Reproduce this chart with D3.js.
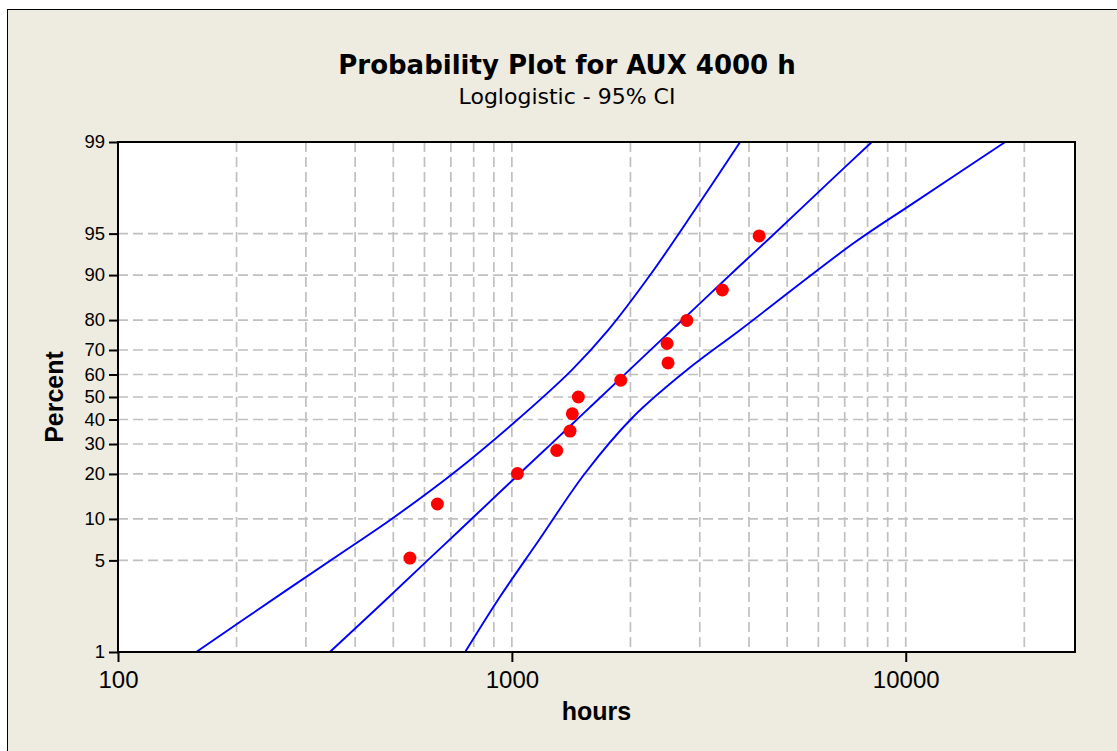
<!DOCTYPE html>
<html>
<head>
<script src="https://cdnjs.cloudflare.com/ajax/libs/d3/7.8.5/d3.min.js"></script>
<style>
  body { margin: 0; background: #ffffff; }
  svg text { font-family: "Liberation Sans", Arial, sans-serif; fill: #000; }
</style>
</head>
<body>
<div id="vis"></div>
<script>
// observed failures (median ranks)
const hours   = [551, 647, 1033, 1300, 1405, 1424, 1475, 1890, 2492, 2478, 2781, 3423, 4244];
const percent = [5.2, 12.7, 20.1, 27.6, 35.1, 42.5, 50.0, 57.5, 64.9, 72.4, 79.9, 87.3, 94.8];

// fitted loglogistic line
const fitHours   = [345, 473, 610, 738, 936, 1048, 1249, 1520, 1830, 2547, 3773, 4547, 6465, 8201];
const fitPercent = [1.0, 2.44, 4.98, 8.34, 15.4, 20.2, 29.6, 42.7, 56.1, 77.0, 91.3, 94.7, 98.03, 99.0];

// 95% CI bounds
const upperHours   = [158, 268, 385, 491, 710, 1009, 1419, 1758, 2244, 2919, 3798];
const upperPercent = [1.0, 2.99, 6.15, 9.83, 20.2, 38.4, 61.9, 77.0, 90.0, 96.7, 99.0];
const lowerHours   = [761, 933, 1157, 1534, 2034, 2781, 3798, 7366, 10364, 17884];
const lowerPercent = [1.0, 2.66, 6.68, 20.2, 41.2, 61.9, 77.0, 94.1, 97.0, 99.0];

const xDomain = [100, 26900];
const xMajor = [100, 1000, 10000];
const xGrid = [200, 300, 400, 500, 600, 700, 800, 900, 1000, 2000, 3000, 4000, 5000, 6000, 7000, 8000, 9000, 10000, 20000];
const yTicks = [1, 5, 10, 20, 30, 40, 50, 60, 70, 80, 90, 95, 99];
const yGrid = [5, 10, 20, 30, 40, 50, 60, 70, 80, 90, 95];

const W = 1117, H = 751;
const pLeft = 118, pRight = 1075, pTop = 142, pBottom = 652;

const logit = p => Math.log((p / 100) / (1 - p / 100));

const svg = d3.select("#vis").append("svg")
    .attr("width", W)
    .attr("height", H);

// outer panel
svg.append("rect")
    .attr("x", 7.5).attr("y", 9.5)
    .attr("width", 1200).attr("height", 800)
    .attr("fill", "#eeebe0")
    .attr("stroke", "#000").attr("stroke-width", 1);

var x = d3.scaleLog().domain(xDomain).range([pLeft, pRight]);
var yLin = d3.scaleLinear().domain([logit(1), logit(99)]).range([pBottom, pTop]);
var y = p => yLin(logit(p));

svg.append("rect")
    .attr("x", pLeft).attr("y", pTop)
    .attr("width", pRight - pLeft).attr("height", pBottom - pTop)
    .attr("fill", "#fff");

// grid
svg.append("g").selectAll("line")
    .data(xGrid)
    .join("line")
    .attr("x1", d => x(d)).attr("x2", d => x(d))
    .attr("y1", pTop).attr("y2", pBottom)
    .attr("stroke", "#c0c0c0").attr("stroke-width", 1.7)
    .attr("stroke-dasharray", "10,5");

svg.append("g").selectAll("line")
    .data(yGrid)
    .join("line")
    .attr("x1", pLeft).attr("x2", pRight)
    .attr("y1", d => y(d)).attr("y2", d => y(d))
    .attr("stroke", "#c0c0c0").attr("stroke-width", 1.7)
    .attr("stroke-dasharray", "10,5");

// fit + CI lines
const line = d3.line()
    .x(d => x(d[0]))
    .y(d => y(d[1]))
    .curve(d3.curveCatmullRom.alpha(0.5));

const series = [
    d3.zip(upperHours, upperPercent),
    d3.zip(fitHours, fitPercent),
    d3.zip(lowerHours, lowerPercent)
];
svg.append("g").selectAll("path")
    .data(series)
    .join("path")
    .attr("fill", "none")
    .attr("stroke", "#0000ff")
    .attr("stroke-width", 1.9)
    .attr("d", line);

// points
svg.append("g").selectAll("circle")
    .data(d3.zip(hours, percent))
    .join("circle")
    .attr("cx", d => x(d[0]))
    .attr("cy", d => y(d[1]))
    .attr("r", 6.5)
    .attr("fill", "#ff0000");

// frame
svg.append("rect")
    .attr("x", pLeft).attr("y", pTop)
    .attr("width", pRight - pLeft).attr("height", pBottom - pTop)
    .attr("fill", "none")
    .attr("stroke", "#000").attr("stroke-width", 2);

// axes
const xAxis = d3.axisBottom(x)
    .tickValues(xMajor)
    .tickFormat(d3.format("d"))
    .tickSize(10)
    .tickPadding(9);
const gx = svg.append("g")
    .attr("transform", "translate(0," + pBottom + ")")
    .call(xAxis);
gx.select(".domain").remove();
gx.selectAll("line").attr("stroke-width", 2);
gx.selectAll("text").attr("font-size", 24).attr("font-family", "Liberation Sans, Arial, sans-serif");

const yAxis = d3.axisLeft(yLin)
    .tickValues(yTicks.map(logit))
    .tickFormat((d, i) => yTicks[i])
    .tickSize(9)
    .tickPadding(4);
const gy = svg.append("g")
    .attr("transform", "translate(" + pLeft + ",0)")
    .call(yAxis);
gy.select(".domain").remove();
gy.selectAll("line").attr("stroke-width", 2);
gy.selectAll("text").attr("font-size", 18.5).attr("font-family", "Liberation Sans, Arial, sans-serif");

// titles
svg.append("text")
    .attr("x", 567).attr("y", 74)
    .attr("text-anchor", "middle")
    .style("font-family", "'DejaVu Sans', sans-serif")
    .style("font-weight", "bold")
    .style("font-size", "26px")
    .text("Probability Plot for AUX 4000 h");

svg.append("text")
    .attr("x", 567).attr("y", 104)
    .attr("text-anchor", "middle")
    .style("font-family", "'DejaVu Sans', sans-serif")
    .style("font-size", "22px")
    .text("Loglogistic - 95% CI");

svg.append("text")
    .attr("x", (pLeft + pRight) / 2).attr("y", 720)
    .attr("text-anchor", "middle")
    .style("font-weight", "bold")
    .style("font-size", "25px")
    .text("hours");

svg.append("text")
    .attr("transform", "translate(63," + ((pTop + pBottom) / 2) + ") rotate(-90)")
    .attr("text-anchor", "middle")
    .style("font-weight", "bold")
    .style("font-size", "25px")
    .text("Percent");
</script>
</body>
</html>
